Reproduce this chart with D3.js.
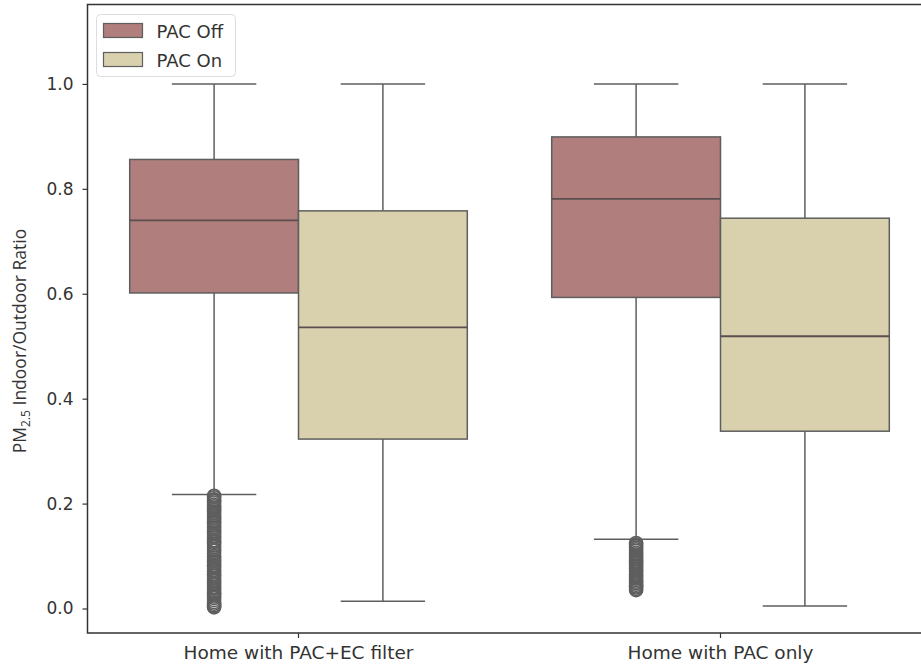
<!DOCTYPE html>
<html>
<head>
<meta charset="utf-8">
<script src="https://cdn.jsdelivr.net/npm/d3@7"></script>
<style>
  body { margin: 0; background: #fff; }
  svg { display: block; }
  .tick text { font-family: "DejaVu Sans", sans-serif; fill: #333; }
  .axis-x .tick text { font-size: 18.5px; }
  .axis-y .tick text { font-size: 17px; }
</style>
</head>
<body>
<div id="chart"></div>
<script>
// Data
const categories = ["Home with PAC+EC filter", "Home with PAC only"];
const hues = ["PAC Off", "PAC On"];
const colors = ["#b07e7d", "#d9d1ae"];

// [whiskerLow, q1, median, q3, whiskerHigh] per hue, per category
const pacOffStats = [
  [0.2175, 0.6015, 0.740, 0.856, 1.0],
  [0.132, 0.593, 0.781, 0.899, 1.0]
];
const pacOnStats = [
  [0.014, 0.323, 0.536, 0.758, 1.0],
  [0.005, 0.338, 0.519, 0.744, 1.0]
];

// Outliers (PAC Off only)
const pacOffOutliers = [
  [0.215, 0.212, 0.208, 0.205, 0.202, 0.198, 0.195, 0.192, 0.188, 0.185, 0.182, 0.178,
   0.175, 0.172, 0.168, 0.165, 0.162, 0.158, 0.155, 0.152, 0.148, 0.145, 0.142, 0.138,
   0.135, 0.13, 0.127, 0.124, 0.12, 0.117, 0.113, 0.11, 0.105, 0.1, 0.097, 0.093, 0.09,
   0.087, 0.083, 0.08, 0.077, 0.073, 0.07, 0.066, 0.063, 0.059, 0.055, 0.052, 0.048,
   0.045, 0.041, 0.038, 0.034, 0.03, 0.027, 0.023, 0.02, 0.016, 0.012, 0.009, 0.006,
   0.004, 0.002],
  [0.125, 0.122, 0.119, 0.116, 0.113, 0.11, 0.106, 0.103, 0.1, 0.097, 0.094, 0.091,
   0.088, 0.085, 0.082, 0.079, 0.076, 0.073, 0.07, 0.066, 0.063, 0.06, 0.057, 0.054,
   0.051, 0.048, 0.045, 0.042, 0.04, 0.037, 0.035]
];

const yTicks = [0.0, 0.2, 0.4, 0.6, 0.8, 1.0];

const width = 921;
const height = 670;
const margin = { top: 4.5, left: 87.5 };
const innerWidth = 844;
const innerHeight = 628.5;

const svg = d3.select("#chart")
  .append("svg")
    .attr("width", width)
    .attr("height", height);

const innerChart = svg.append("g")
  .attr("transform", `translate(${margin.left}, ${margin.top})`);

// Scales
const xScale = d3.scaleBand()
  .domain(categories)
  .range([0, innerWidth]);
const hueScale = d3.scaleBand()
  .domain(hues)
  .range([0, xScale.bandwidth() * 0.8]);
const yScale = d3.scaleLinear()
  .domain([-0.0467, 1.1514])
  .range([innerHeight, 0]);
const colorScale = d3.scaleOrdinal().domain(hues).range(colors);

const lineColor = "#5e5e5e";

// Axes
const bottomAxis = d3.axisBottom(xScale).tickSize(5).tickPadding(8);
innerChart.append("g")
    .attr("class", "axis-x")
    .attr("transform", `translate(0, ${innerHeight})`)
    .call(bottomAxis);

const leftAxis = d3.axisLeft(yScale)
  .tickValues(yTicks)
  .tickFormat(d3.format(".1f"))
  .tickSize(5)
  .tickPadding(9);
innerChart.append("g")
    .attr("class", "axis-y")
    .call(leftAxis);

innerChart.selectAll(".domain").remove();
innerChart.selectAll(".tick line").attr("stroke", "#333").attr("stroke-width", 1.2);

// Spines (left, bottom, top; right falls outside the picture)
innerChart.append("path")
    .attr("d", `M${innerWidth},0 H0 V${innerHeight} H${innerWidth}`)
    .attr("fill", "none")
    .attr("stroke", "#333")
    .attr("stroke-width", 1.5);

// Boxes
const groups = [
  { hue: "PAC Off", stats: pacOffStats, outliers: pacOffOutliers },
  { hue: "PAC On", stats: pacOnStats, outliers: [[], []] }
];

groups.forEach(g => {
  categories.forEach((cat, i) => {
    const [lo, q1, med, q3, hi] = g.stats[i];
    const x0 = xScale(cat) + xScale.bandwidth() * 0.1 + hueScale(g.hue);
    const w = hueScale.bandwidth();
    const cx = x0 + w / 2;
    const box = innerChart.append("g").attr("class", `box-${i}`);

    // whiskers
    box.append("line")
        .attr("x1", cx).attr("x2", cx)
        .attr("y1", yScale(hi)).attr("y2", yScale(q3))
        .attr("stroke", lineColor).attr("stroke-width", 1.5);
    box.append("line")
        .attr("x1", cx).attr("x2", cx)
        .attr("y1", yScale(q1)).attr("y2", yScale(lo))
        .attr("stroke", lineColor).attr("stroke-width", 1.5);
    [lo, hi].forEach(v => {
      box.append("line")
          .attr("x1", cx - w / 4).attr("x2", cx + w / 4)
          .attr("y1", yScale(v)).attr("y2", yScale(v))
          .attr("stroke", lineColor).attr("stroke-width", 1.5);
    });

    // box body
    box.append("rect")
        .attr("x", x0)
        .attr("y", yScale(q3))
        .attr("width", w)
        .attr("height", yScale(q1) - yScale(q3))
        .attr("fill", colorScale(g.hue))
        .attr("stroke", lineColor)
        .attr("stroke-width", 1.5);

    // median
    box.append("line")
        .attr("x1", x0).attr("x2", x0 + w)
        .attr("y1", yScale(med)).attr("y2", yScale(med))
        .attr("stroke", "#5a4f4f").attr("stroke-width", 1.8);

    // fliers
    box.selectAll("circle")
      .data(g.outliers[i])
      .join("circle")
        .attr("cx", cx)
        .attr("cy", d => yScale(d))
        .attr("r", 6.5)
        .attr("fill", "none")
        .attr("stroke", "#5e5e5e")
        .attr("stroke-width", 1.6);
  });
});

// Y label
const yLabel = svg.append("text")
    .attr("transform", `translate(26, 341) rotate(-90)`)
    .attr("text-anchor", "middle")
    .attr("font-family", "'Open Sans', sans-serif")
    .attr("font-size", 17.5)
    .attr("fill", "#333");
yLabel.append("tspan").text("PM");
yLabel.append("tspan").attr("font-size", 12).attr("dy", 4).text("2.5");
yLabel.append("tspan").attr("dy", -4).text(" Indoor/Outdoor Ratio");

// Legend
const legend = svg.append("g").attr("transform", "translate(96.5, 14.5)");
legend.append("rect")
    .attr("width", 139)
    .attr("height", 62)
    .attr("rx", 4)
    .attr("fill", "#fff")
    .attr("fill-opacity", 0.8)
    .attr("stroke", "#ddd");
hues.forEach((h, i) => {
  legend.append("rect")
      .attr("x", 7)
      .attr("y", 9 + i * 29)
      .attr("width", 39)
      .attr("height", 14)
      .attr("fill", colorScale(h))
      .attr("stroke", lineColor)
      .attr("stroke-width", 1.2);
  legend.append("text")
      .attr("x", 60)
      .attr("y", 23 + i * 29)
      .attr("font-family", "'DejaVu Sans', sans-serif")
      .attr("font-size", 18)
      .attr("fill", "#333")
      .text(h);
});
</script>
</body>
</html>
